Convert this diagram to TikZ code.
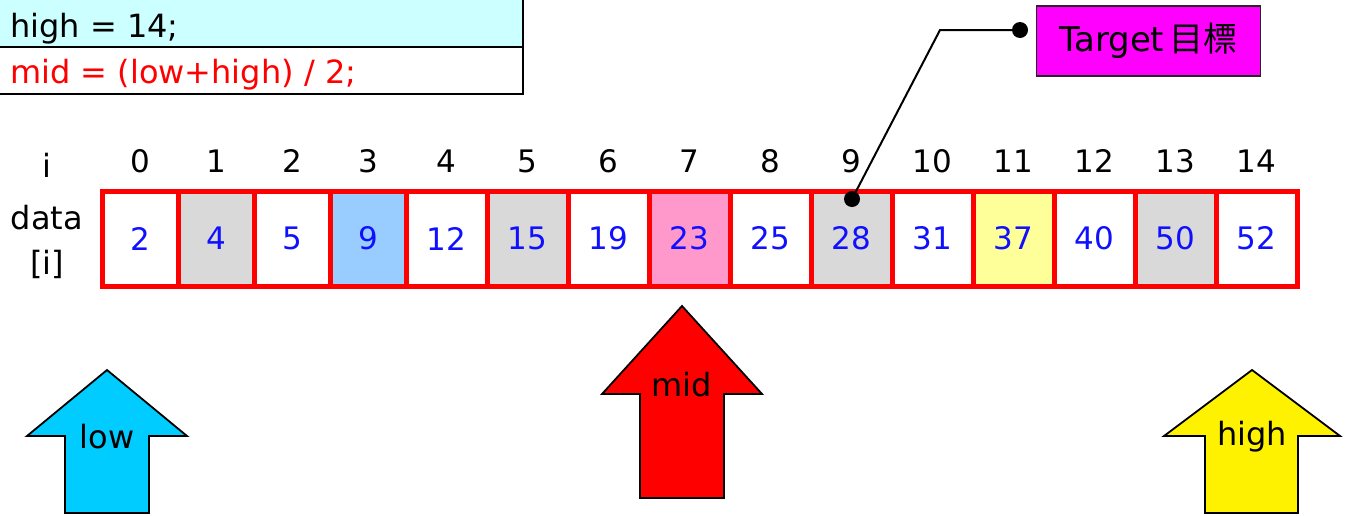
\documentclass[tikz,border=0pt]{standalone}
\usepackage{fontspec}
\setmainfont{DejaVu Sans}
\newfontfamily\cjkfont{Noto Sans CJK TC}
\definecolor{codecyan}{HTML}{CCFFFF}
\definecolor{cellgray}{HTML}{D9D9D9}
\definecolor{cellblue}{HTML}{99CCFF}
\definecolor{cellpink}{HTML}{FF99CC}
\definecolor{cellyellow}{HTML}{FFFF99}
\definecolor{numblue}{HTML}{1010FF}
\definecolor{arrcyan}{HTML}{00CCFF}
\definecolor{tgtmag}{HTML}{FF00FF}
\begin{document}
\begin{tikzpicture}[x=1pt,y=-1pt,
  every node/.style={font=\fontsize{32}{38}\selectfont, inner sep=0pt},
  digits/.style={font=\fontsize{31}{36}\selectfont},
  codebox/.style={draw=black, line width=1.8pt},
  cell/.style={draw=red, line width=5pt, minimum height=95pt, text=numblue, digits},
  narrow/.style={cell, minimum width=76pt},
  wide/.style={cell, minimum width=81pt},
  idx/.style={text=black, digits},
  blockarrow/.style={draw=black, line width=1.8pt, line join=miter},
  dot/.style={circle, fill=black, minimum size=16pt, inner sep=0pt},
  tgt/.style={draw=black!85, line width=1.6pt, fill=tgtmag, minimum width=224pt, minimum height=70pt, font=\fontsize{34}{40}\selectfont}
]
\useasboundingbox (0,0) rectangle (1351,515);
% code boxes
\path[codebox, fill=codecyan] (-2,-2) rectangle (523,47);
\path[codebox, fill=white] (-2,47) rectangle (523,94);
\node[anchor=base west] (code1) at (10,37) {high = 14;};
\node[anchor=base west, text=red] (code2) at (10,83) {mid = (low+high) / 2;};
% row labels
\node (ilab) at (47,165) {i};
\node (datalab) at (47,218) {data};
\node (ilab2) at (47,264) {[i]};
% cells
\node[narrow] (c0) at (140,238.5) {2};
\node[narrow, fill=cellgray] (c1) at (216,238.5) {4};
\node[narrow] (c2) at (292,238.5) {5};
\node[narrow, fill=cellblue] (c3) at (368,238.5) {9};
\node[wide] (c4) at (446.5,238.5) {12};
\node[wide, fill=cellgray] (c5) at (527.5,238.5) {15};
\node[wide] (c6) at (608.5,238.5) {19};
\node[wide, fill=cellpink] (c7) at (689.5,238.5) {23};
\node[wide] (c8) at (770.5,238.5) {25};
\node[wide, fill=cellgray] (c9) at (851.5,238.5) {28};
\node[wide] (c10) at (932.5,238.5) {31};
\node[wide, fill=cellyellow] (c11) at (1013.5,238.5) {37};
\node[wide] (c12) at (1094.5,238.5) {40};
\node[wide, fill=cellgray] (c13) at (1175.5,238.5) {50};
\node[wide] (c14) at (1256.5,238.5) {52};
% index labels
\foreach \k in {0,...,14} {
  \node[idx] (i\k) at (c\k.center |- 0,161) {\k};
}
% target
\node[tgt] (target) at (1148.5,41) {Target\,{\cjkfont 目標}};
\node[dot] (d1) at (852,199) {};
\node[dot] (d2) at (1020,30) {};
\coordinate (bend) at (940,30);
\draw[line width=2pt] (d1.center) -- (bend) -- (d2.center);
% block arrows
\path[blockarrow, fill=arrcyan] (107,370) -- (187,436) -- (149,436) -- (149,513) -- (65,513) -- (65,436) -- (27,436) -- cycle;
\node (lowlab) at (107,437) {low};
\path[blockarrow, fill=red] (682,306) -- (762,394) -- (724,394) -- (724,498) -- (640,498) -- (640,394) -- (602,394) -- cycle;
\node (midlab) at (682,385) {mid};
\path[blockarrow, fill=yellow] (1252,370) -- (1340,436) -- (1298,436) -- (1298,513) -- (1205,513) -- (1205,436) -- (1164,436) -- cycle;
\node (highlab) at (1252,437) {high};
\end{tikzpicture}
\end{document}
